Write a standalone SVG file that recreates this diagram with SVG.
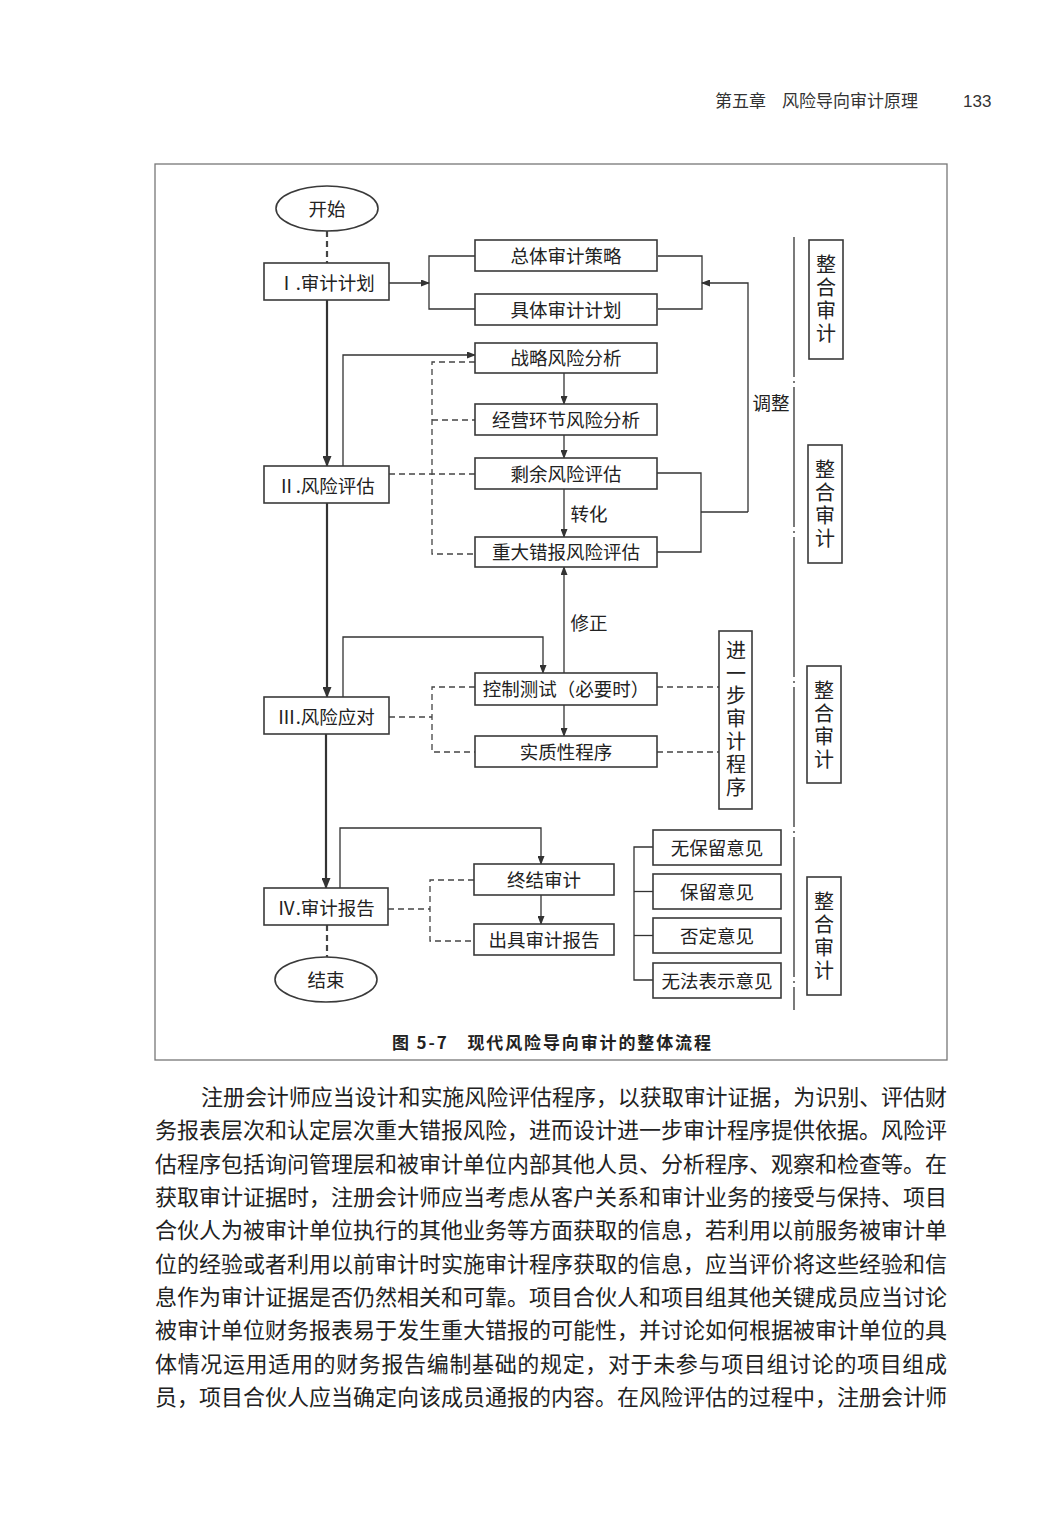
<svg xmlns="http://www.w3.org/2000/svg" width="1063" height="1535" viewBox="0 0 1063 1535">
<style>
.bx{fill:#fff;stroke:#3a3a3a;stroke-width:1.6}
.t{font-family:"Noto Sans CJK SC","Liberation Sans",sans-serif;font-size:18.5px;fill:#222;text-anchor:middle;dominant-baseline:central}
.v{font-family:"Noto Sans CJK SC","Liberation Sans",sans-serif;font-size:20px;fill:#222;text-anchor:middle;dominant-baseline:central;writing-mode:vertical-rl;letter-spacing:3px}
.ln{fill:none;stroke:#333;stroke-width:1.3}
.th{fill:none;stroke:#333;stroke-width:2.2}
.ds{fill:none;stroke:#444;stroke-width:1.3;stroke-dasharray:6 4}
.body{font-family:"Noto Sans CJK SC","Liberation Serif",serif;font-size:22px;fill:#222}
</style>
<defs>
<marker id="a" markerWidth="9" markerHeight="7" refX="8" refY="3.5" orient="auto" markerUnits="userSpaceOnUse"><path d="M0,0 L9,3.5 L0,7 z" fill="#333"/></marker>
<marker id="ab" markerWidth="11" markerHeight="9" refX="10" refY="4.5" orient="auto" markerUnits="userSpaceOnUse"><path d="M0,0 L11,4.5 L0,9 z" fill="#333"/></marker>
</defs>
<rect width="1063" height="1535" fill="#fff"/>
<g id="header">
<text x="715" y="107" font-family="Noto Sans CJK SC,sans-serif" font-size="17" fill="#333">第五章</text>
<text x="782" y="107" font-family="Noto Sans CJK SC,sans-serif" font-size="17" fill="#333">风险导向审计原理</text>
<text x="963" y="107" font-family="Liberation Sans,sans-serif" font-size="17" fill="#333">133</text>
</g>
<rect id="frame" x="155" y="164" width="792" height="896" fill="none" stroke="#777" stroke-width="1.3"/>
<g id="connectors">
<path class="ds" d="M327,231 V263" style="stroke-width:2.2"/>
<path class="th" d="M327,300 V466" marker-end="url(#ab)"/>
<path class="th" d="M327,503 V697" marker-end="url(#ab)"/>
<path class="th" d="M326,734 V888" marker-end="url(#ab)"/>
<path class="ds" d="M327,925 V957" style="stroke-width:2.2"/>
<path class="ln" d="M389,283 H429" marker-end="url(#a)"/>
<path class="ln" d="M475,256 H429 V309 H475"/>
<path class="ln" d="M658,256 H702 V309 H658"/>
<path class="ln" d="M748,512 V283 H702" marker-end="url(#a)"/>
<path class="ln" d="M657,473 H701 V552 H657"/>
<path class="ln" d="M701,512 H748"/>
<path class="ln" d="M343,466 V355 H475" marker-end="url(#a)"/>
<path class="ds" d="M389,474 H475"/>
<path class="ds" d="M475,362 H432 V554 H475"/>
<path class="ds" d="M432,420 H475"/>
<path class="ln" d="M564,373 V404" marker-end="url(#a)"/>
<path class="ln" d="M564,435 V458" marker-end="url(#a)"/>
<path class="ln" d="M564,489 V537" marker-end="url(#a)"/>
<path class="ln" d="M564,673 V567" marker-end="url(#a)"/>
<path class="ln" d="M343,697 V637 H543 V673" marker-end="url(#a)"/>
<path class="ds" d="M389,717 H432"/>
<path class="ds" d="M475,687 H432 V752 H475"/>
<path class="ln" d="M564,705 V736" marker-end="url(#a)"/>
<path class="ds" d="M657,687 H719"/>
<path class="ds" d="M657,752 H719"/>
<path class="ln" d="M340,888 V828 H541 V864" marker-end="url(#a)"/>
<path class="ln" d="M541,895 V924" marker-end="url(#a)"/>
<path class="ds" d="M388,909 H430"/>
<path class="ds" d="M474,880 H430 V941 H474"/>
<path class="ln" d="M653,847 H634 V980 H653"/>
<path class="ln" d="M634,891.5 H653"/>
<path class="ln" d="M634,935.5 H653"/>
<path d="M794,237 V1010" fill="none" stroke="#333" stroke-width="1.3" stroke-dasharray="140 4 2 4"/>
<text class="t" x="771" y="402">调整</text>
<text class="t" x="589" y="513">转化</text>
<text class="t" x="589" y="622">修正</text>
</g>
<g id="start"><ellipse cx="327" cy="208.5" rx="51" ry="22.5" fill="#fff" stroke="#3a3a3a" stroke-width="1.6"/><text class="t" x="327" y="208">开始</text></g>
<g id="end"><ellipse cx="326" cy="979.5" rx="51" ry="22.5" fill="#fff" stroke="#3a3a3a" stroke-width="1.6"/><text class="t" x="326" y="979">结束</text></g>
<g id="n1"><rect class="bx" x="264" y="263" width="125" height="37"/><text class="t" x="326" y="282">Ⅰ.审计计划</text></g>
<g id="n2"><rect class="bx" x="264" y="466" width="125" height="37"/><text class="t" x="326" y="485">Ⅱ.风险评估</text></g>
<g id="n3"><rect class="bx" x="264" y="697" width="125" height="37"/><text class="t" x="326" y="716">Ⅲ.风险应对</text></g>
<g id="n4"><rect class="bx" x="264" y="888" width="124" height="37"/><text class="t" x="326" y="907">Ⅳ.审计报告</text></g>
<g id="zt"><rect class="bx" x="475" y="240" width="182" height="31"/><text class="t" x="566" y="255">总体审计策略</text></g>
<g id="jt"><rect class="bx" x="475" y="294" width="182" height="31"/><text class="t" x="566" y="309">具体审计计划</text></g>
<g id="zl"><rect class="bx" x="475" y="343" width="182" height="30"/><text class="t" x="566" y="357">战略风险分析</text></g>
<g id="jy"><rect class="bx" x="475" y="404" width="182" height="31"/><text class="t" x="566" y="419">经营环节风险分析</text></g>
<g id="sy"><rect class="bx" x="475" y="458" width="182" height="31"/><text class="t" x="566" y="473">剩余风险评估</text></g>
<g id="zd"><rect class="bx" x="475" y="537" width="182" height="30"/><text class="t" x="566" y="551">重大错报风险评估</text></g>
<g id="kz"><rect class="bx" x="475" y="673" width="182" height="32"/><text class="t" x="566" y="688">控制测试（必要时）</text></g>
<g id="sz"><rect class="bx" x="475" y="736" width="182" height="31"/><text class="t" x="566" y="751">实质性程序</text></g>
<g id="zj"><rect class="bx" x="474" y="864" width="140" height="31"/><text class="t" x="544" y="879">终结审计</text></g>
<g id="cj"><rect class="bx" x="474" y="924" width="140" height="31"/><text class="t" x="544" y="939">出具审计报告</text></g>
<g id="o1"><rect class="bx" x="653" y="830" width="128" height="35"/><text class="t" x="717" y="847">无保留意见</text></g>
<g id="o2"><rect class="bx" x="653" y="874" width="128" height="35"/><text class="t" x="717" y="891">保留意见</text></g>
<g id="o3"><rect class="bx" x="653" y="918" width="128" height="35"/><text class="t" x="717" y="935">否定意见</text></g>
<g id="o4"><rect class="bx" x="653" y="963" width="128" height="35"/><text class="t" x="717" y="980">无法表示意见</text></g>
<g id="jb"><rect class="bx" x="719" y="631" width="33" height="178"/><text class="v" x="736" y="720" style="letter-spacing:2.8px">进一步审计程序</text></g>
<g id="h1"><rect class="bx" x="809" y="240" width="34" height="119"/><text class="v" x="826" y="300">整合审计</text></g>
<g id="h2"><rect class="bx" x="808" y="445" width="34" height="118"/><text class="v" x="825" y="505">整合审计</text></g>
<g id="h3"><rect class="bx" x="807" y="666" width="34" height="117"/><text class="v" x="824" y="726">整合审计</text></g>
<g id="h4"><rect class="bx" x="807" y="877" width="34" height="118"/><text class="v" x="824" y="937">整合审计</text></g>
<g id="caption"><text x="392" y="1049" font-family="Noto Sans CJK SC,sans-serif" font-size="17" font-weight="bold" fill="#222" textLength="319" lengthAdjust="spacing">图 5-7　现代风险导向审计的整体流程</text></g>
<g id="paragraph" class="body">
<text x="201" y="1105" textLength="746" lengthAdjust="spacing">注册会计师应当设计和实施风险评估程序，以获取审计证据，为识别、评估财</text>
<text x="155" y="1138" textLength="792" lengthAdjust="spacing">务报表层次和认定层次重大错报风险，进而设计进一步审计程序提供依据。风险评</text>
<text x="155" y="1172" textLength="792" lengthAdjust="spacing">估程序包括询问管理层和被审计单位内部其他人员、分析程序、观察和检查等。在</text>
<text x="155" y="1205" textLength="792" lengthAdjust="spacing">获取审计证据时，注册会计师应当考虑从客户关系和审计业务的接受与保持、项目</text>
<text x="155" y="1238" textLength="792" lengthAdjust="spacing">合伙人为被审计单位执行的其他业务等方面获取的信息，若利用以前服务被审计单</text>
<text x="155" y="1272" textLength="792" lengthAdjust="spacing">位的经验或者利用以前审计时实施审计程序获取的信息，应当评价将这些经验和信</text>
<text x="155" y="1305" textLength="792" lengthAdjust="spacing">息作为审计证据是否仍然相关和可靠。项目合伙人和项目组其他关键成员应当讨论</text>
<text x="155" y="1338" textLength="792" lengthAdjust="spacing">被审计单位财务报表易于发生重大错报的可能性，并讨论如何根据被审计单位的具</text>
<text x="155" y="1372" textLength="792" lengthAdjust="spacing">体情况运用适用的财务报告编制基础的规定，对于未参与项目组讨论的项目组成</text>
<text x="155" y="1405" textLength="792" lengthAdjust="spacing">员，项目合伙人应当确定向该成员通报的内容。在风险评估的过程中，注册会计师</text>
</g>
</svg>
